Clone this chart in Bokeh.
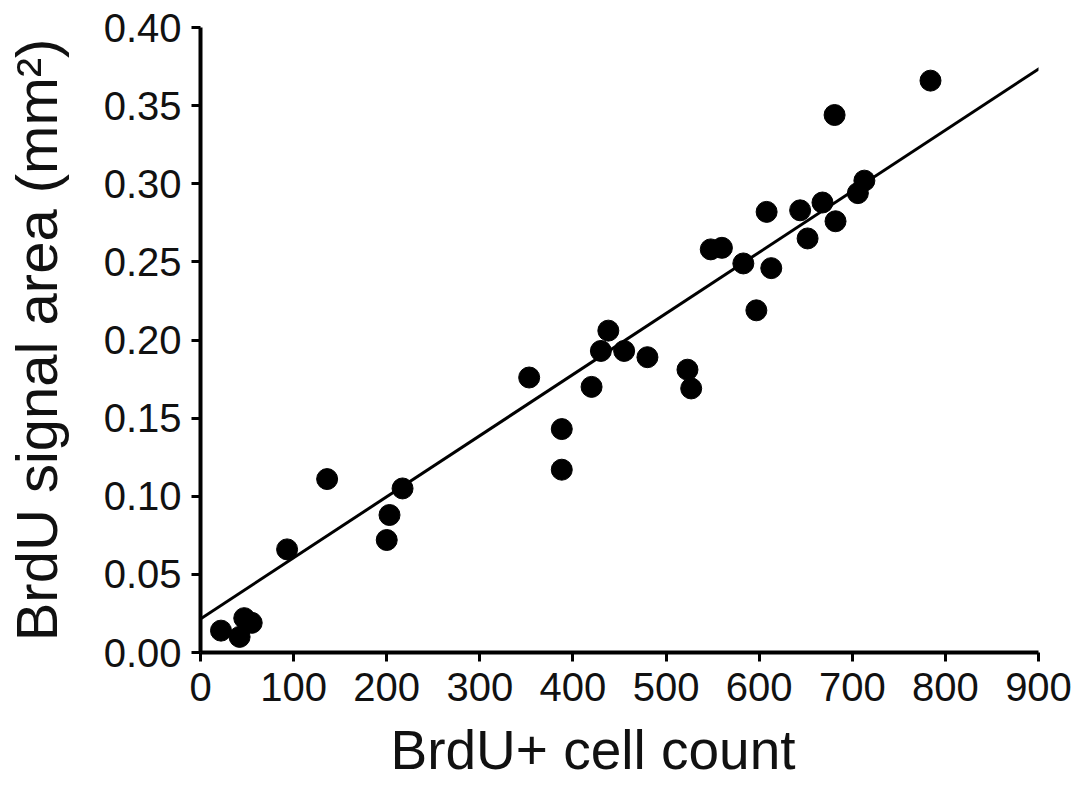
from bokeh.plotting import figure
from bokeh.models import FixedTicker, Range1d, Slope, Title
from bokeh.embed import file_html
from bokeh.resources import INLINE

# Data
cell_count = [22, 42, 47, 55, 93, 136, 200, 203, 217, 353, 388, 388, 420, 430, 438,
              455, 480, 523, 527, 548, 560, 583, 597, 608, 613, 644, 652, 668, 681,
              682, 706, 713, 784]
signal_area = [0.014, 0.010, 0.022, 0.019, 0.066, 0.111, 0.072, 0.088, 0.105, 0.176,
               0.117, 0.143, 0.170, 0.193, 0.206, 0.193, 0.189, 0.181, 0.169, 0.258,
               0.259, 0.249, 0.219, 0.282, 0.246, 0.283, 0.265, 0.288, 0.344, 0.276,
               0.294, 0.302, 0.366]

fit_intercept = 0.0215
fit_slope = 0.000391

x_ticks = [0, 100, 200, 300, 400, 500, 600, 700, 800, 900]
y_ticks = [0.0, 0.05, 0.10, 0.15, 0.20, 0.25, 0.30, 0.35, 0.40]
y_tick_labels = ["0.00", "0.05", "0.10", "0.15", "0.20", "0.25", "0.30", "0.35", "0.40"]

FONT = "Liberation Sans"

p = figure(
    frame_width=838, frame_height=625,
    min_border_left=200, min_border_top=27, min_border_right=46, min_border_bottom=135,
    x_range=Range1d(0, 900), y_range=Range1d(0, 0.40),
    output_backend="svg", toolbar_location=None,
)
p.outline_line_color = None
p.grid.visible = False
p.background_fill_color = "white"
p.border_fill_color = "white"

p.scatter(cell_count, signal_area, size=21, color="black")
p.add_layout(Slope(gradient=fit_slope, y_intercept=fit_intercept,
                   line_color="black", line_width=3))

for ax in (p.xaxis[0], p.yaxis[0]):
    ax.axis_line_width = 4
    ax.axis_line_color = "black"
    ax.major_tick_line_width = 3
    ax.major_tick_line_color = "black"
    ax.major_tick_out = 9
    ax.major_tick_in = 0
    ax.minor_tick_line_color = None
    ax.major_label_text_font = FONT
    ax.major_label_text_font_size = "40px"
    ax.major_label_text_color = "#111111"
    ax.axis_label_text_font = FONT
    ax.axis_label_text_font_style = "normal"
    ax.axis_label_text_color = "#111111"

p.yaxis.axis_label_text_font_size = "58px"
p.xaxis.ticker = FixedTicker(ticks=x_ticks)
p.yaxis.ticker = FixedTicker(ticks=y_ticks)
p.yaxis.major_label_overrides = {t: l for t, l in zip(y_ticks, y_tick_labels)}
p.xaxis.major_label_standoff = 11
p.yaxis.major_label_standoff = 10
p.yaxis.axis_label = "BrdU signal area (mm²)"
p.yaxis.axis_label_standoff = 32

x_title = Title(text="BrdU+ cell count", align="left", offset=190, standoff=26,
                text_font=FONT, text_font_size="55px", text_font_style="normal",
                text_color="#111111")
p.add_layout(x_title, "below")

open("out.html", "w").write(file_html(p, INLINE))
